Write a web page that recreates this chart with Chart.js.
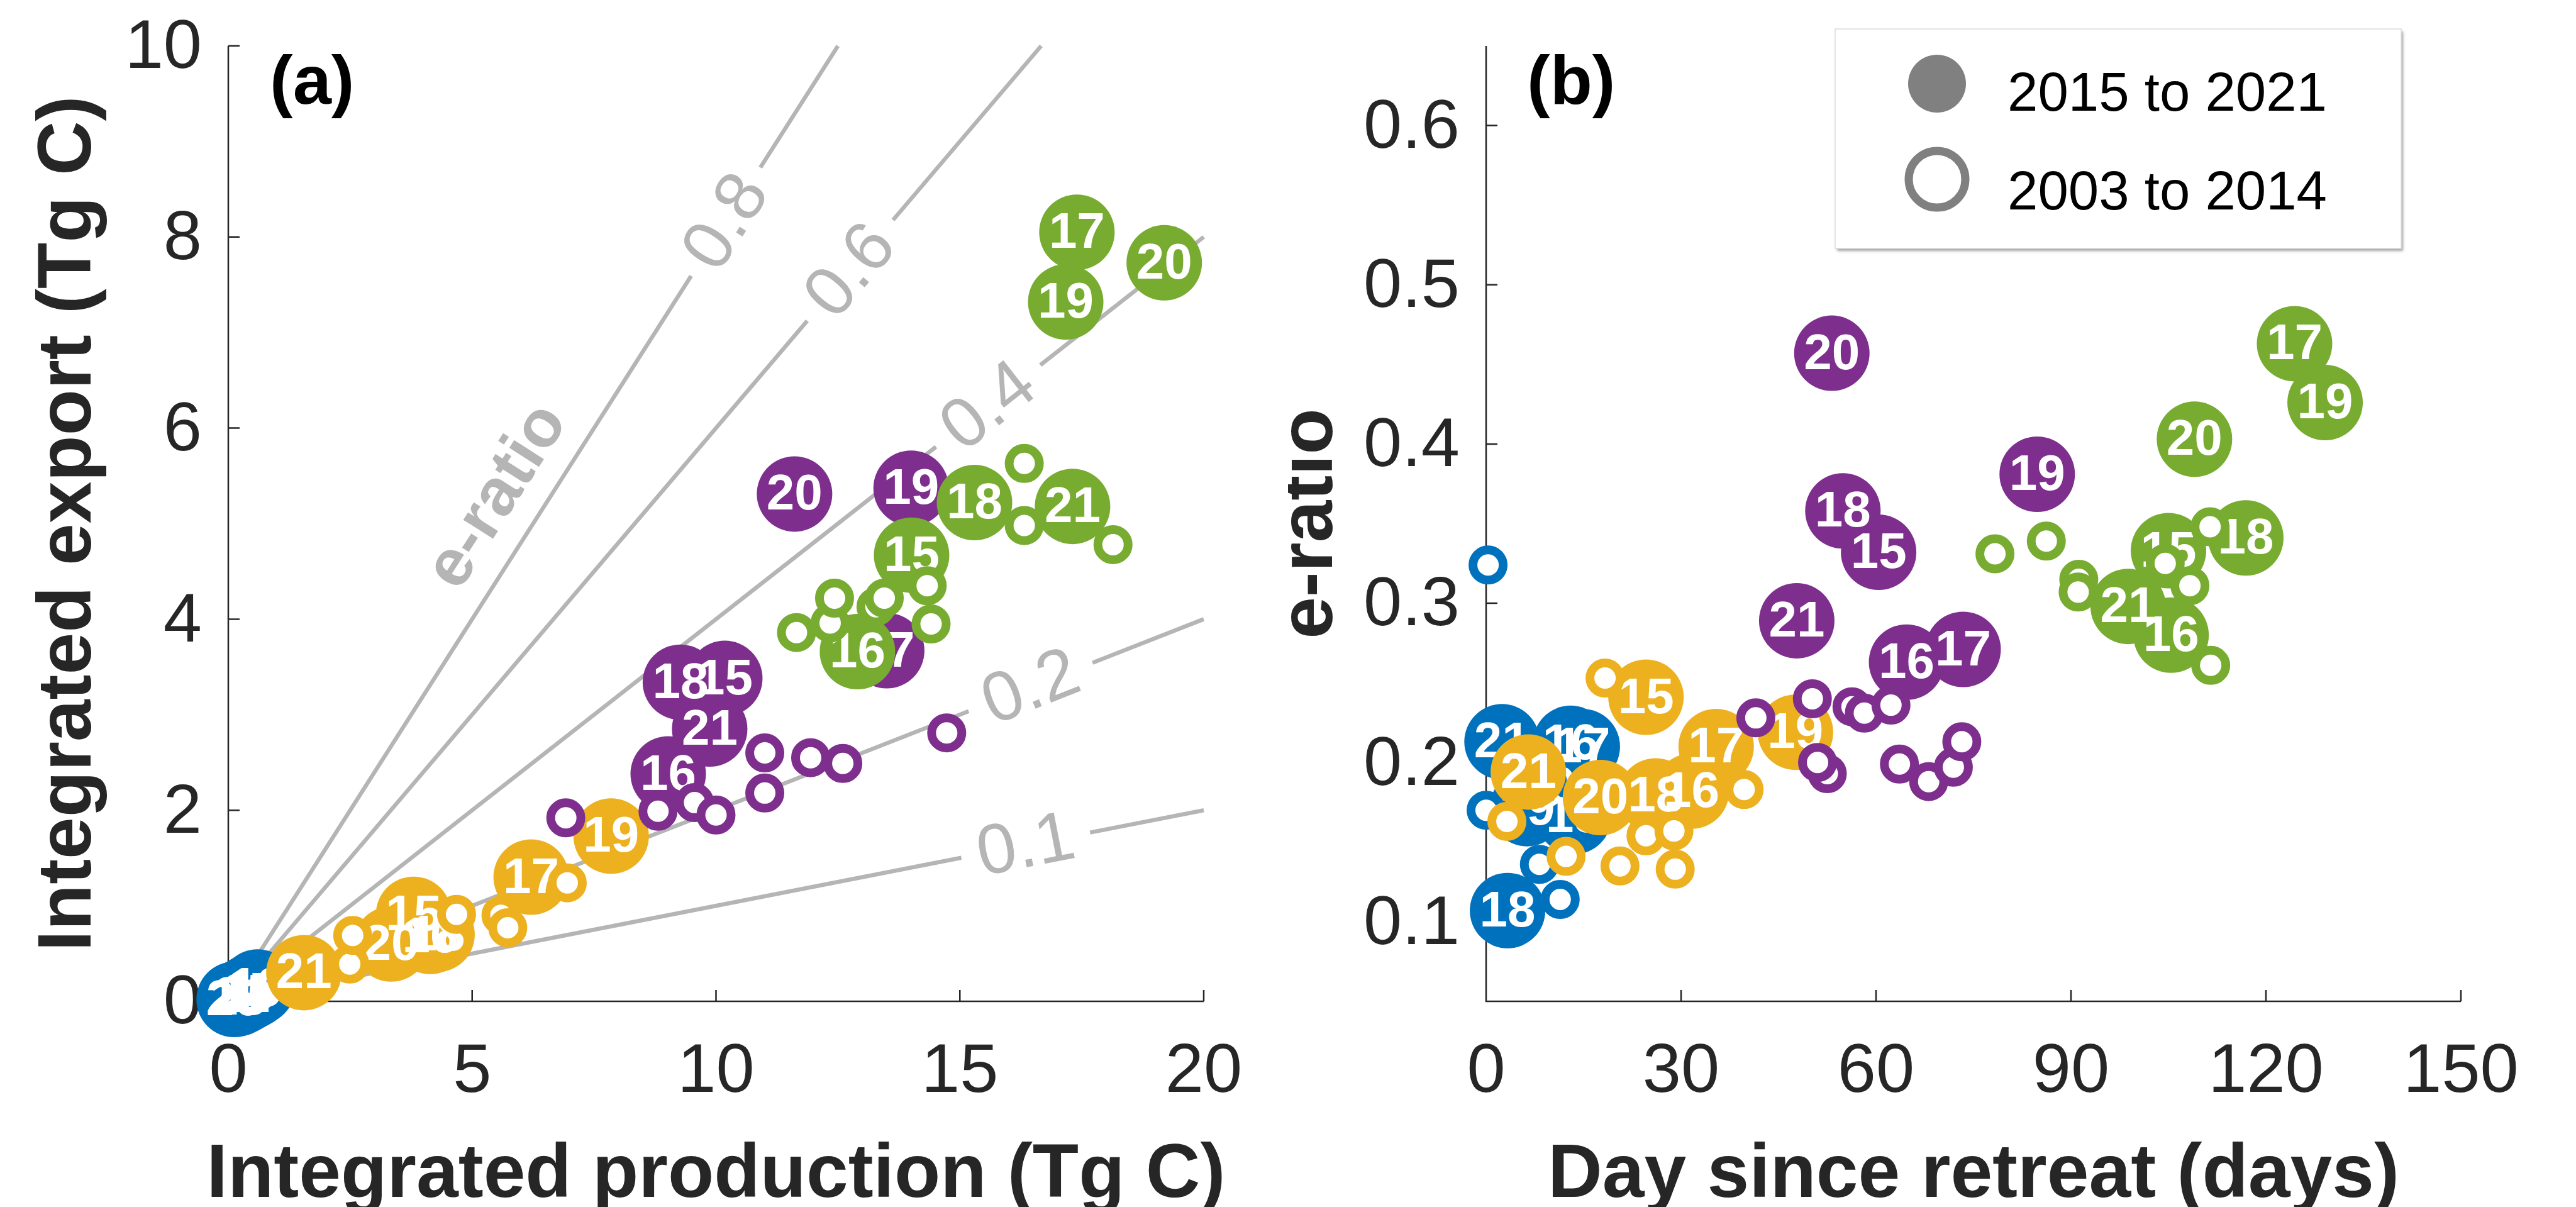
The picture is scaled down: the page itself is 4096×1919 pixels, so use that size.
<!DOCTYPE html>
<html>
<head>
<meta charset="utf-8">
<script src="https://cdn.jsdelivr.net/npm/chart.js@4.4.0/dist/chart.umd.min.js"></script>
<style>
  html, body { margin: 0; padding: 0; background: #fff; overflow: hidden; }
  #wrap { position: relative; width: 4096px; height: 1919px; }
  canvas { position: absolute; top: 0; }
</style>
</head>
<body>
<div id="wrap">
  <canvas id="chartA" width="2048" height="1919" style="left:0;width:2048px;height:1919px"></canvas>
  <canvas id="chartB" width="2048" height="1919" style="left:2048px;width:2048px;height:1919px"></canvas>
</div>
<script>
// season labels for the 2015-2021 bubbles
var years = [15, 16, 17, 18, 19, 20, 21];
var eRatios = [0.1, 0.2, 0.4, 0.6, 0.8];

// ticks
var aXTicks = [0, 5, 10, 15, 20];
var aYTicks = [0, 2, 4, 6, 8, 10];
var bXTicks = [0, 30, 60, 90, 120, 150];
var bYTicks = [0.1, 0.2, 0.3, 0.4, 0.5, 0.6];

// (a) integrated production vs integrated export (Tg C), 2015-2021 in year order
var prodBlue   = [0.38, 0.52, 0.45, 0.20, 0.60, 0.12, 0.28];
var expBlue    = [0.08, 0.12, 0.10, 0.03, 0.15, 0.02, 0.05];
var prodYellow = [3.80, 4.14, 6.21, 4.28, 7.85, 3.34, 1.55];
var expYellow  = [0.91, 0.68, 1.30, 0.70, 1.73, 0.60, 0.30];
var prodPurple = [10.18, 9.02, 13.50, 9.27, 14.00, 11.61, 9.87];
var expPurple  = [3.38, 2.38, 3.67, 3.34, 5.37, 5.31, 2.85];
var prodGreen  = [14.01, 12.90, 17.40, 15.30, 17.17, 19.19, 17.31];
var expGreen   = [4.67, 3.66, 8.05, 5.22, 7.32, 7.73, 5.18];

// (a) 2003-2014
var prodBlueOld   = [0.10, 0.30, 0.50, 0.65];
var expBlueOld    = [0.03, 0.05, 0.08, 0.12];
var prodYellowOld = [2.49, 2.55, 4.68, 5.59, 5.73, 6.95];
var expYellowOld  = [0.39, 0.69, 0.91, 0.90, 0.77, 1.24];
var prodPurpleOld = [6.92, 8.81, 9.56, 10.00, 11.00, 11.00, 11.94, 12.60, 14.73];
var expPurpleOld  = [1.92, 1.99, 2.08, 1.95, 2.18, 2.60, 2.55, 2.49, 2.81];
var prodGreenOld  = [11.65, 12.34, 12.43, 13.28, 13.45, 14.33, 14.41, 16.32, 16.32, 18.14];
var expGreenOld   = [3.86, 3.96, 4.22, 4.13, 4.22, 4.35, 3.95, 5.63, 4.98, 4.78];

// (b) day since retreat vs e-ratio, 2015-2021 in year order
var dayBlue     = [13.5, 13.0, 14.8, 3.3, 6.3, 9.5, 2.45];
var ratioBlue   = [0.166, 0.212, 0.210, 0.107, 0.171, 0.185, 0.213];
var dayYellow   = [24.6, 31.6, 35.4, 26.1, 47.6, 17.6, 6.5];
var ratioYellow = [0.241, 0.182, 0.210, 0.179, 0.219, 0.178, 0.194];
var dayPurple   = [60.4, 64.7, 73.4, 54.9, 84.8, 53.2, 47.8];
var ratioPurple = [0.332, 0.263, 0.271, 0.358, 0.381, 0.457, 0.289];
var dayGreen    = [105.0, 105.4, 124.4, 116.9, 129.1, 109.0, 98.8];
var ratioGreen  = [0.333, 0.280, 0.463, 0.341, 0.426, 0.403, 0.298];

// (b) 2003-2014
var dayBlueOld     = [0.3, 0.0, 8.2, 11.4];
var ratioBlueOld   = [0.324, 0.170, 0.136, 0.114];
var dayYellowOld   = [18.3, 3.2, 12.3, 20.6, 24.6, 29.1, 39.7, 28.9];
var ratioYellowOld = [0.253, 0.163, 0.141, 0.135, 0.154, 0.133, 0.183, 0.157];
var dayPurpleOld   = [41.5, 50.2, 52.5, 51.0, 56.3, 58.2, 62.3, 63.6, 68.1, 71.9, 73.2];
var ratioPurpleOld = [0.228, 0.240, 0.193, 0.200, 0.235, 0.231, 0.236, 0.199, 0.188, 0.197, 0.213];
var dayGreenOld    = [78.3, 86.2, 91.2, 91.1, 108.3, 111.4, 111.5, 104.5];
var ratioGreenOld  = [0.331, 0.339, 0.315, 0.307, 0.311, 0.348, 0.261, 0.325];

// where the e-ratio line labels sit (production value) and the gap cut for them
var ratioLabelX  = [16.35, 16.45, 15.58, 12.75, 10.2];
var ratioGapHalf = [1.32, 1.27, 1.07, 0.88, 0.71];

var FONT = "'Liberation Sans', Arial, sans-serif";
var INK = '#262626';
var LINE_GREY = '#b5b5b5';
var colBlue = '#0072BD', colYellow = '#EDB120', colPurple = '#7E2F8E', colGreen = '#77AC30';

Chart.defaults.font.family = FONT;
Chart.defaults.color = INK;

function pts(xs, ys) {
    return xs.map(function (x, i) { return {x: x, y: ys[i]}; });
}

// lower order is drawn later (on top)
function filledSet(xs, ys, color, order) {
    return {data: pts(xs, ys), backgroundColor: color, borderWidth: 0,
        pointRadius: 60, pointHoverRadius: 60, order: order, clip: false, yearLabels: years};
}
function openSet(xs, ys, color, order) {
    return {data: pts(xs, ys), backgroundColor: '#ffffff', borderColor: color, borderWidth: 14,
        pointRadius: 24, pointHoverRadius: 24, order: order, clip: false};
}

function ratioLines() {
    return eRatios.map(function (r, i) {
        var xEnd = Math.min(20, 10 / r);
        var g0 = ratioLabelX[i] - ratioGapHalf[i], g1 = ratioLabelX[i] + ratioGapHalf[i];
        return {type: 'line', data: [{x: 0, y: 0}, {x: g0, y: r * g0}, {x: ratioLabelX[i], y: null},
                {x: g1, y: r * g1}, {x: xEnd, y: r * xEnd}],
            borderColor: LINE_GREY, borderWidth: 6.5, pointRadius: 0, spanGaps: false,
            order: 50, clip: false};
    });
}

var yearLabelPlugin = {
    id: 'yearLabels',
    afterDatasetDraw: function (chart, args) {
        var ds = chart.data.datasets[args.index];
        if (!ds.yearLabels) return;
        var ctx = chart.ctx;
        ctx.save();
        ctx.fillStyle = '#ffffff';
        ctx.font = 'bold 80px ' + FONT;
        ctx.textAlign = 'center';
        ctx.textBaseline = 'middle';
        args.meta.data.forEach(function (p, i) {
            ctx.fillText(String(ds.yearLabels[i]), p.x, p.y + 3);
        });
        ctx.restore();
    }
};

// MATLAB style axes: left and bottom lines with inward ticks
var axesPlugin = {
    id: 'axesLines',
    beforeDatasetsDraw: function (chart) {
        var ctx = chart.ctx, a = chart.chartArea, xs = chart.scales.x, ys = chart.scales.y;
        ctx.save();
        ctx.strokeStyle = INK;
        ctx.lineWidth = 2.5;
        ctx.beginPath();
        ctx.moveTo(a.left, a.top);
        ctx.lineTo(a.left, a.bottom);
        ctx.lineTo(a.right, a.bottom);
        xs.ticks.forEach(function (t) {
            var p = xs.getPixelForValue(t.value);
            ctx.moveTo(p, a.bottom);
            ctx.lineTo(p, a.bottom - 18);
        });
        ys.ticks.forEach(function (t) {
            var p = ys.getPixelForValue(t.value);
            ctx.moveTo(a.left, p);
            ctx.lineTo(a.left + 18, p);
        });
        ctx.stroke();
        ctx.restore();
    }
};

function drawText(ctx, text, x, y, font, color, align, angle) {
    ctx.save();
    ctx.translate(x, y);
    if (angle) ctx.rotate(angle);
    ctx.font = font;
    ctx.fillStyle = color;
    ctx.textAlign = align || 'center';
    ctx.textBaseline = 'alphabetic';
    ctx.fillText(text, 0, 0);
    ctx.restore();
}

var ratioLabelPlugin = {
    id: 'ratioLabels',
    beforeDatasetsDraw: function (chart) {
        var ctx = chart.ctx, xs = chart.scales.x, ys = chart.scales.y;
        eRatios.forEach(function (r, i) {
            var x = ratioLabelX[i];
            var px = xs.getPixelForValue(x), py = ys.getPixelForValue(r * x);
            var ang = Math.atan2(ys.getPixelForValue(r * (x + 1)) - py, xs.getPixelForValue(x + 1) - px);
            ctx.save();
            ctx.translate(px, py);
            ctx.rotate(ang);
            ctx.font = '112px ' + FONT;
            ctx.fillStyle = LINE_GREY;
            ctx.textAlign = 'center';
            ctx.textBaseline = 'middle';
            ctx.fillText(String(r), 0, 4);
            ctx.restore();
        });
        // "e-ratio" note along the steepest line
        var r8 = eRatios[eRatios.length - 1];
        var ex = xs.getPixelForValue(5.53), ey = ys.getPixelForValue(5.28);
        var a8 = Math.atan2(ys.getPixelForValue(r8 * 2) - ys.getPixelForValue(r8), xs.getPixelForValue(2) - xs.getPixelForValue(1));
        ctx.save();
        ctx.translate(ex, ey);
        ctx.rotate(a8);
        ctx.font = 'bold 106px ' + FONT;
        ctx.fillStyle = LINE_GREY;
        ctx.textAlign = 'center';
        ctx.textBaseline = 'middle';
        ctx.fillText('e-ratio', 0, 0);
        ctx.restore();
    }
};

var panelAText = {
    id: 'panelAText',
    afterDraw: function (chart) {
        var ctx = chart.ctx, a = chart.chartArea;
        drawText(ctx, 'Integrated production (Tg C)', (a.left + a.right) / 2, 1903, 'bold 120px ' + FONT, INK);
        drawText(ctx, 'Integrated export (Tg C)', 144, (a.top + a.bottom) / 2, 'bold 120px ' + FONT, INK, 'center', -Math.PI / 2);
        drawText(ctx, '(a)', 429, 165, 'bold 110px ' + FONT, '#000', 'left');
    }
};

var panelBText = {
    id: 'panelBText',
    afterDraw: function (chart) {
        var ctx = chart.ctx, a = chart.chartArea;
        drawText(ctx, 'Day since retreat (days)', (a.left + a.right) / 2, 1903, 'bold 120px ' + FONT, INK);
        drawText(ctx, 'e-ratio', 70, (a.top + a.bottom) / 2, 'bold 120px ' + FONT, INK, 'center', -Math.PI / 2);
        drawText(ctx, '(b)', 380, 165, 'bold 110px ' + FONT, '#000', 'left');

        // legend box
        ctx.save();
        ctx.shadowColor = 'rgba(0,0,0,0.35)';
        ctx.shadowOffsetX = 3;
        ctx.shadowOffsetY = 4;
        ctx.shadowBlur = 4;
        ctx.fillStyle = '#ffffff';
        ctx.fillRect(870, 46, 900, 349);
        ctx.restore();
        ctx.save();
        ctx.strokeStyle = '#dcdcdc';
        ctx.lineWidth = 1.5;
        ctx.strokeRect(870, 46, 900, 349);
        ctx.fillStyle = '#808080';
        ctx.beginPath();
        ctx.arc(1032, 133, 46, 0, Math.PI * 2);
        ctx.fill();
        ctx.strokeStyle = '#808080';
        ctx.lineWidth = 13;
        ctx.beginPath();
        ctx.arc(1032, 285, 45, 0, Math.PI * 2);
        ctx.stroke();
        ctx.restore();
        drawText(ctx, '2015 to 2021', 1144, 176, '87px ' + FONT, '#000', 'left');
        drawText(ctx, '2003 to 2014', 1144, 333, '87px ' + FONT, '#000', 'left');
    }
};

function scaleOpts(min, max, tickList, fitFn, extra) {
    var o = {
        type: 'linear', min: min, max: max,
        grid: {display: false, drawTicks: false},
        border: {display: false},
        ticks: {font: {size: 110}, color: INK, autoSkip: false, maxRotation: 0,
            callback: function (v) { return String(v); }},
        afterBuildTicks: function (s) { s.ticks = tickList.map(function (v) { return {value: v}; }); },
        afterFit: function (s) {
            fitFn(s);
            // keep the plot box where the layout padding puts it
            s.paddingTop = 0; s.paddingBottom = 0; s.paddingLeft = 0; s.paddingRight = 0;
        }
    };
    Object.keys(extra).forEach(function (k) { o.ticks[k] = extra[k]; });
    return o;
}

var baseOpts = function (pad, scales) {
    return {
        responsive: false, animation: false, devicePixelRatio: 1,
        layout: {padding: pad},
        plugins: {legend: {display: false}, tooltip: {enabled: false}},
        events: [],
        scales: scales
    };
};

new Chart(document.getElementById('chartA'), {
    type: 'scatter',
    data: {
        datasets: ratioLines().concat([
            filledSet(prodBlue, expBlue, colBlue, 9),
            openSet(prodBlueOld, expBlueOld, colBlue, 10),
            filledSet(prodYellow, expYellow, colYellow, 7),
            openSet(prodYellowOld, expYellowOld, colYellow, 6),
            filledSet(prodPurple, expPurple, colPurple, 5),
            openSet(prodPurpleOld, expPurpleOld, colPurple, 4),
            filledSet(prodGreen, expGreen, colGreen, 3),
            openSet(prodGreenOld, expGreenOld, colGreen, 2)
        ])
    },
    options: baseOpts({top: 73, right: 134, left: 0, bottom: 0}, {
        x: scaleOpts(0, 20, aXTicks, function (s) { s.height = 327; }, {padding: 48}),
        y: scaleOpts(0, 10, aYTicks, function (s) { s.width = 363; }, {padding: 42, labelOffset: 5})
    }),
    plugins: [axesPlugin, ratioLabelPlugin, yearLabelPlugin, panelAText]
});

new Chart(document.getElementById('chartB'), {
    type: 'scatter',
    data: {
        datasets: [
            filledSet(dayBlue, ratioBlue, colBlue, 9),
            openSet(dayBlueOld, ratioBlueOld, colBlue, 8),
            filledSet(dayYellow, ratioYellow, colYellow, 7),
            openSet(dayYellowOld, ratioYellowOld, colYellow, 6),
            filledSet(dayPurple, ratioPurple, colPurple, 5),
            openSet(dayPurpleOld, ratioPurpleOld, colPurple, 4),
            filledSet(dayGreen, ratioGreen, colGreen, 3),
            openSet(dayGreenOld, ratioGreenOld, colGreen, 2)
        ]
    },
    options: baseOpts({top: 73, right: 183, left: 0, bottom: 0}, {
        x: scaleOpts(0, 150, bXTicks, function (s) { s.height = 327; }, {padding: 48}),
        y: scaleOpts(0.05, 0.65, bYTicks, function (s) { s.width = 315; }, {padding: 42, labelOffset: 5})
    }),
    plugins: [axesPlugin, yearLabelPlugin, panelBText]
});
</script>
</body>
</html>
